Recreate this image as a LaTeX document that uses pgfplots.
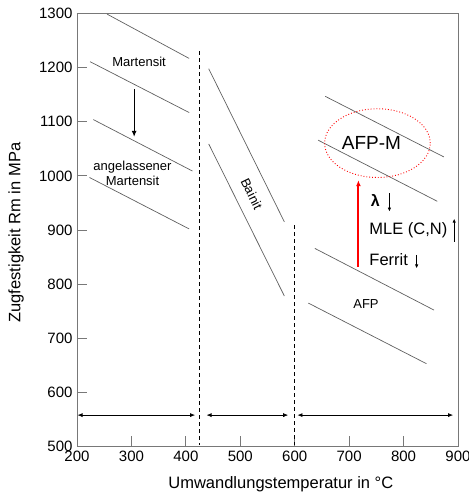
\documentclass[border=0pt]{standalone}
\usepackage{pgfplots}
\pgfplotsset{compat=1.18}
\usepackage{fontspec}
\setmainfont{Liberation Sans}
\usetikzlibrary{arrows.meta}
\definecolor{linegray}{RGB}{95,95,95}
\definecolor{axgray}{RGB}{120,120,120}

\begin{document}
\begin{tikzpicture}
\begin{axis}[
  scale only axis,
  width=381bp, height=433bp,
  xmin=200, xmax=900, ymin=500, ymax=1300,
  xtick={200,300,...,900}, ytick={500,600,...,1300},
  tick align=inside,
  xtick pos=bottom, ytick pos=left,
  major tick length=10bp,
  axis line style={axgray, line width=0.8pt},
  tick style={axgray, line width=0.8pt},
  /pgf/number format/assume math mode=true,
  /pgf/number format/1000 sep={},
  tick label style={font=\fontsize{15bp}{18bp}\selectfont},
  xticklabel style={yshift=-1bp},
  yticklabel style={xshift=-1bp},
  xlabel={Umwandlungstemperatur in °C},
  ylabel={Zugfestigkeit Rm in MPa},
  label style={font=\fontsize{16.5bp}{19bp}\selectfont},
  xlabel style={at={(axis description cs:0.535,-0.0866)}, anchor=center},
  ylabel style={at={(axis description cs:-0.160,0.494)}, anchor=center},
  clip=false,
]
% Martensit / angelassener Martensit
\addplot[linegray, line width=0.7pt] coordinates {(255,1299) (406,1217)};
\addplot[linegray, line width=0.7pt] coordinates {(224,1211) (406,1117)};
\addplot[linegray, line width=0.7pt] coordinates {(230,1104) (412,1009)};
\addplot[linegray, line width=0.7pt] coordinates {(223,997) (406,902)};
% Bainit
\addplot[linegray, line width=0.7pt] coordinates {(442,1198) (581,915)};
\addplot[linegray, line width=0.7pt] coordinates {(442,1059) (581,778)};
% AFP-M
\addplot[linegray, line width=0.7pt] coordinates {(656,1147) (874,1035)};
\addplot[linegray, line width=0.7pt] coordinates {(643,1066) (862,953)};
% AFP
\addplot[linegray, line width=0.7pt] coordinates {(637,866) (856,752)};
\addplot[linegray, line width=0.7pt] coordinates {(625,765) (842,653)};
% Grenzen
\addplot[black, line width=1.3pt, dash pattern=on 4bp off 3bp] coordinates {(425,1230) (425,503)};
\addplot[black, line width=1.3pt, dash pattern=on 4bp off 3bp] coordinates {(599,909) (599,503)};
% Bereichspfeile
\addplot[black, line width=0.7pt, {Latex[length=5bp,width=4bp]}-{Latex[length=5bp,width=4bp]}] coordinates {(201,558) (417,558)};
\addplot[black, line width=0.7pt, {Latex[length=5bp,width=4bp]}-{Latex[length=5bp,width=4bp]}] coordinates {(438,558) (588,558)};
\addplot[black, line width=0.7pt, {Latex[length=5bp,width=4bp]}-{Latex[length=5bp,width=4bp]}] coordinates {(605,558) (891,558)};
% Anlassen
\addplot[black, line width=1.3pt, -{Latex[length=6bp,width=5bp]}] coordinates {(305,1160) (305,1072)};
% Steigerung
\addplot[red, line width=2pt, -{Latex[length=6bp,width=5bp]}] coordinates {(717,832) (717,992)};
\addplot[black, line width=0.8pt, -{Latex[length=4bp,width=3.5bp]}] coordinates {(774,968) (774,934)};
\addplot[black, line width=0.8pt, -{Latex[length=4bp,width=3.5bp]}] coordinates {(893,878) (893,921)};
\addplot[black, line width=0.8pt, -{Latex[length=4bp,width=3.5bp]}] coordinates {(824,854) (824,829)};

\draw[red, line width=0.9pt, dotted] (axis cs:752,1060.5) ellipse [x radius=97, y radius=63.5];

\node[font=\fontsize{13bp}{15bp}\selectfont] at (axis cs:314,1211) {Martensit};
\node[font=\fontsize{13bp}{15bp}\selectfont, align=center] at (axis cs:302,1005) {angelassener\\Martensit};
\node[font=\fontsize{13bp}{15bp}\selectfont, rotate=-64] at (axis cs:521,967) {Bainit};
\node[font=\fontsize{19bp}{22bp}\selectfont] at (axis cs:741,1060) {AFP-M};
\node[font=\fontsize{16bp}{19bp}\selectfont\bfseries] at (axis cs:748,955) {λ};
\node[font=\fontsize{16.5bp}{19bp}\selectfont, anchor=west, inner sep=0pt] at (axis cs:737,900) {MLE (C,N)};
\node[font=\fontsize{16.5bp}{19bp}\selectfont, anchor=west, inner sep=0pt] at (axis cs:737,844.5) {Ferrit};
\node[font=\fontsize{13bp}{15bp}\selectfont] at (axis cs:731,764) {AFP};
\end{axis}
\pgfresetboundingbox
\path[use as bounding box] (-77bp,-54.5bp) rectangle (392bp,446.5bp);
\end{tikzpicture}
\end{document}
